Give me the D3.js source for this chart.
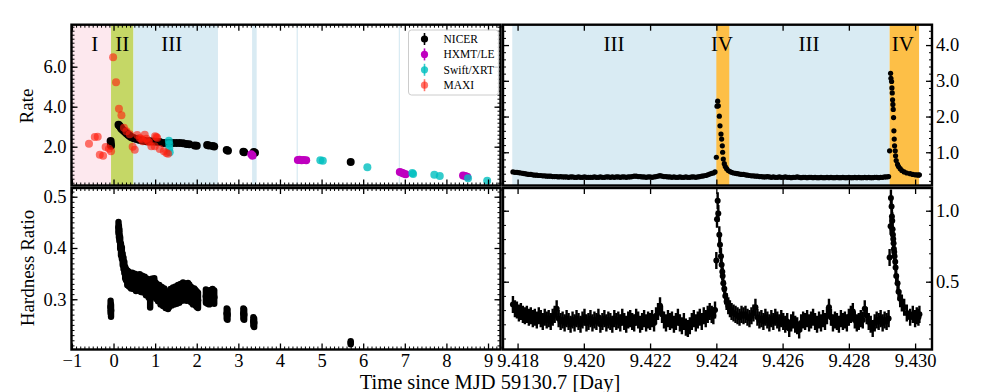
<!DOCTYPE html>
<html>
<head>
<meta charset="utf-8">
<script src="https://cdn.jsdelivr.net/npm/d3@7"></script>
<style>
  body { margin: 0; background: #fff; }
  text { font-family: "Liberation Serif", "Times New Roman", "DejaVu Serif", serif; }
</style>
</head>
<body>
<div id="chart"></div>
<script>
// ---- left panels: days since MJD 59130.7 ----
const nicerT = [-0.07, -0.065, -0.06, 0.12, 0.14, 0.17, 0.19, 0.23, 0.27, 0.31, 0.35, 0.39, 0.43, 0.49, 0.55, 0.61, 0.67, 0.73, 0.79, 0.87, 0.95, 1.03, 1.11, 1.19, 1.27, 1.35, 1.43, 1.51, 1.59, 1.67, 1.75, 1.82, 1.95, 2.0, 2.25, 2.29, 2.38, 2.42, 2.72, 2.75, 3.12, 3.14, 3.37, 3.40, 5.70];
const nicerRate = [2.28, 2.15, 2.05, 3.1, 3.05, 2.97, 2.9, 2.82, 2.75, 2.67, 2.6, 2.53, 2.47, 2.42, 2.38, 2.35, 2.32, 2.3, 2.27, 2.27, 2.26, 2.25, 2.23, 2.19, 2.18, 2.18, 2.18, 2.18, 2.18, 2.17, 2.14, 2.12, 2.06, 2.05, 2.08, 2.06, 2.03, 2.01, 1.83, 1.8, 1.75, 1.72, 1.74, 1.70, 1.23];

const hxmtT = [3.31, 3.34, 4.43, 4.47, 4.52, 4.57, 4.63, 6.88, 6.93, 6.97, 7.02, 8.40, 8.45, 8.50];
const hxmtRate = [1.62, 1.55, 1.34, 1.35, 1.32, 1.33, 1.32, 0.74, 0.70, 0.66, 0.62, 0.56, 0.54, 0.50];

const swiftT = [1.33, 1.34, 1.34, 1.35, 4.97, 5.03, 6.10, 7.18, 7.20, 7.71, 7.84, 8.52, 8.98];
const swiftRate = [2.30, 2.12, 1.92, 1.72, 1.32, 1.30, 0.97, 0.68, 0.63, 0.60, 0.53, 0.42, 0.30];

const maxiT = [-0.59, -0.45, -0.38, -0.33, -0.25, -0.19, -0.11, -0.06, -0.01, 0.06, 0.13, 0.19, 0.25, 0.31, 0.39, 0.46, 0.51, 0.57, 0.63, 0.67, 0.70, 0.75, 0.79, 0.83, 0.86, 0.91, 0.99, 1.00, 1.03, 1.05, 1.11, 1.21, 1.27, 1.31];
const maxiRate = [2.15, 2.48, 2.50, 1.60, 1.55, 1.98, 1.90, 1.77, 6.47, 5.22, 3.90, 3.57, 2.95, 2.77, 2.62, 2.00, 1.85, 2.58, 2.43, 2.38, 2.27, 2.60, 2.40, 2.27, 2.22, 2.02, 2.02, 2.52, 2.48, 2.43, 1.88, 1.77, 1.68, 1.65];

const nicerHrT = [-0.07, -0.06, 0.12, 0.13, 0.14, 0.16, 0.18, 0.20, 0.22, 0.24, 0.26, 0.28, 0.30, 0.33, 0.36, 0.39, 0.42, 0.45, 0.48, 0.51, 0.54, 0.57, 0.60, 0.63, 0.66, 0.69, 0.72, 0.75, 0.78, 0.81, 0.84, 0.86, 0.88, 0.92, 0.95, 0.98, 1.01, 1.04, 1.07, 1.10, 1.13, 1.16, 1.19, 1.22, 1.25, 1.28, 1.31, 1.34, 1.37, 1.40, 1.43, 1.46, 1.49, 1.52, 1.55, 1.58, 1.61, 1.64, 1.67, 1.70, 1.73, 1.76, 1.79, 1.82, 1.85, 1.88, 1.91, 1.94, 1.97, 2.00, 2.03, 2.22, 2.26, 2.30, 2.34, 2.38, 2.42, 2.72, 2.74, 3.12, 3.14, 3.36, 3.38, 5.70];
const nicerHr = [0.285, 0.278, 0.440, 0.432, 0.425, 0.410, 0.397, 0.390, 0.378, 0.370, 0.362, 0.352, 0.348, 0.342, 0.340, 0.338, 0.335, 0.338, 0.334, 0.336, 0.330, 0.334, 0.331, 0.335, 0.328, 0.332, 0.327, 0.330, 0.322, 0.326, 0.318, 0.322, 0.298, 0.325, 0.322, 0.326, 0.318, 0.315, 0.311, 0.313, 0.305, 0.309, 0.302, 0.306, 0.298, 0.300, 0.296, 0.300, 0.305, 0.303, 0.308, 0.305, 0.310, 0.306, 0.313, 0.308, 0.315, 0.312, 0.318, 0.313, 0.316, 0.312, 0.317, 0.314, 0.310, 0.308, 0.305, 0.306, 0.303, 0.300, 0.298, 0.306, 0.304, 0.303, 0.305, 0.307, 0.304, 0.272, 0.270, 0.272, 0.270, 0.257, 0.254, 0.215];
const nicerHrErr = [0.012, 0.012, 0.011, 0.011, 0.011, 0.011, 0.011, 0.011, 0.011, 0.011, 0.011, 0.011, 0.011, 0.014, 0.014, 0.014, 0.014, 0.014, 0.014, 0.014, 0.014, 0.014, 0.014, 0.014, 0.014, 0.014, 0.014, 0.014, 0.014, 0.014, 0.014, 0.014, 0.014, 0.015, 0.015, 0.015, 0.015, 0.015, 0.015, 0.015, 0.015, 0.015, 0.015, 0.015, 0.015, 0.015, 0.015, 0.015, 0.015, 0.015, 0.015, 0.015, 0.015, 0.015, 0.015, 0.015, 0.015, 0.015, 0.015, 0.015, 0.015, 0.015, 0.015, 0.015, 0.015, 0.015, 0.015, 0.015, 0.015, 0.015, 0.015, 0.013, 0.013, 0.013, 0.013, 0.013, 0.013, 0.010, 0.010, 0.010, 0.010, 0.008, 0.008, 0.003];

// phases shaded in the top-left panel
const leftBandStart = [-1.01, -0.06, 0.48, 3.33, 4.40, 6.855];
const leftBandEnd = [-0.06, 0.48, 2.51, 3.44, 4.43, 6.885];
const leftBandPhase = ["I", "II", "III", "III", "III", "III"];
const leftLabelX = [-0.45, 0.21, 1.40];
const leftLabelText = ["I", "II", "III"];

// ---- right panels: zoom on the two flares ----
const quietStartA = 9.41786, quietStartB = 9.42488, quietStep = 0.00006;
const quietRateA = [0.45, 0.44, 0.44, 0.43, 0.42, 0.41, 0.40, 0.39, 0.38, 0.38, 0.37, 0.36, 0.36, 0.35, 0.35, 0.34, 0.34, 0.33, 0.33, 0.33,
  0.32, 0.32, 0.32, 0.31, 0.32, 0.31, 0.31, 0.31, 0.30, 0.31, 0.31, 0.30, 0.30, 0.31, 0.30, 0.30, 0.31, 0.30, 0.30, 0.30,
  0.30, 0.31, 0.30, 0.30, 0.31, 0.30, 0.30, 0.31, 0.31, 0.30, 0.31, 0.30, 0.31, 0.31, 0.30, 0.31, 0.31, 0.30, 0.31, 0.31,
  0.32, 0.33, 0.33, 0.32, 0.32, 0.31, 0.31, 0.30, 0.31, 0.31, 0.30, 0.31, 0.32, 0.33, 0.35, 0.33, 0.32, 0.32, 0.31, 0.31,
  0.30, 0.31, 0.30, 0.30, 0.31, 0.30, 0.30, 0.31, 0.30, 0.30, 0.31, 0.31, 0.30, 0.31, 0.32, 0.33, 0.34, 0.35, 0.37, 0.39, 0.41];
const quietHrA = [0.34, 0.31, 0.30, 0.28, 0.29, 0.27, 0.26, 0.27, 0.25, 0.26,
  0.24, 0.25, 0.23, 0.26, 0.24, 0.22, 0.25, 0.23, 0.24, 0.22,
  0.25, 0.27, 0.31, 0.24, 0.22, 0.23, 0.21, 0.24, 0.22, 0.20,
  0.23, 0.21, 0.24, 0.22, 0.20, 0.23, 0.25, 0.21, 0.22, 0.24,
  0.21, 0.23, 0.22, 0.25, 0.20, 0.22, 0.24, 0.21, 0.23, 0.22,
  0.20, 0.24, 0.22, 0.23, 0.21, 0.25, 0.22, 0.20, 0.23, 0.24,
  0.22, 0.21, 0.25, 0.23, 0.20, 0.22, 0.24, 0.21, 0.23, 0.22,
  0.24, 0.21, 0.26, 0.29, 0.33, 0.27, 0.23, 0.21, 0.24, 0.22,
  0.23, 0.20, 0.22, 0.25, 0.21, 0.19, 0.22, 0.18, 0.17, 0.19,
  0.22, 0.24, 0.21, 0.23, 0.25, 0.22, 0.26, 0.24, 0.27, 0.29, 0.27];
const quietRateB = [0.37, 0.36, 0.35, 0.34, 0.34, 0.33, 0.33, 0.32, 0.32, 0.31, 0.31, 0.32, 0.31, 0.30, 0.31, 0.30, 0.30, 0.31, 0.30, 0.30,
  0.31, 0.30, 0.30, 0.29, 0.30, 0.30, 0.31, 0.30, 0.29, 0.30, 0.30, 0.29, 0.30, 0.30, 0.29, 0.30, 0.29, 0.29, 0.30, 0.29,
  0.29, 0.30, 0.29, 0.30, 0.29, 0.29, 0.30, 0.29, 0.29, 0.30, 0.29, 0.29, 0.30, 0.29, 0.29, 0.30, 0.29, 0.30, 0.29, 0.29,
  0.30, 0.29, 0.30, 0.29, 0.29, 0.30, 0.30, 0.29, 0.30, 0.30, 0.31, 0.31, 0.32];
const quietHrB = [0.27, 0.25, 0.24, 0.26, 0.28, 0.32, 0.25, 0.23, 0.24, 0.22,
  0.25, 0.23, 0.21, 0.24, 0.22, 0.25, 0.23, 0.21, 0.24, 0.22,
  0.20, 0.22, 0.17, 0.21, 0.23, 0.20, 0.19, 0.16, 0.21, 0.23,
  0.22, 0.24, 0.21, 0.23, 0.25, 0.22, 0.20, 0.23, 0.21, 0.24,
  0.22, 0.26, 0.32, 0.25, 0.21, 0.23, 0.22, 0.20, 0.24, 0.22,
  0.23, 0.21, 0.25, 0.27, 0.29, 0.23, 0.21, 0.22, 0.24, 0.23,
  0.31, 0.26, 0.22, 0.20, 0.17, 0.21, 0.23, 0.22, 0.24, 0.21, 0.23, 0.22, 0.24];

const flareAT = [9.42391, 9.42396, 9.42400, 9.42402, 9.42404, 9.42406, 9.42409, 9.42411, 9.42414, 9.42416, 9.42418, 9.42419, 9.42421, 9.42424, 9.42427, 9.42431, 9.42436, 9.42441, 9.42446, 9.42452, 9.42458, 9.42464, 9.42470, 9.42476, 9.42482];
const flareARate = [0.42, 0.45, 0.86, 2.29, 2.43, 2.30, 2.01, 1.74, 1.51, 1.37, 1.18, 1.00, 0.81, 0.68, 0.60, 0.54, 0.49, 0.46, 0.44, 0.42, 0.41, 0.40, 0.39, 0.38, 0.38];
const flareAHr = [0.26, 0.30, 0.65, 0.94, 1.07, 0.98, 0.83, 0.76, 0.68, 0.62, 0.57, 0.54, 0.49, 0.45, 0.40, 0.36, 0.33, 0.31, 0.29, 0.28, 0.27, 0.26, 0.25, 0.27, 0.26];

const flareBT = [9.42923, 9.42926, 9.42927, 9.42929, 9.42930, 9.42931, 9.42932, 9.42933, 9.42934, 9.42935, 9.42936, 9.42937, 9.42938, 9.42940, 9.42941, 9.42943, 9.42947, 9.42950, 9.42955, 9.42960, 9.42967, 9.42975, 9.42985, 9.42993, 9.43000, 9.43005, 9.43010, 9.43013];
const flareBRate = [1.04, 3.21, 3.07, 2.98, 2.80, 2.66, 2.47, 2.34, 2.20, 1.97, 1.60, 1.37, 1.18, 1.04, 0.90, 0.77, 0.66, 0.60, 0.54, 0.49, 0.45, 0.42, 0.40, 0.38, 0.37, 0.37, 0.36, 0.37];
const flareBHr = [0.67, 0.89, 1.09, 1.03, 0.96, 0.93, 0.87, 0.83, 0.80, 0.77, 0.73, 0.71, 0.68, 0.64, 0.60, 0.54, 0.49, 0.43, 0.38, 0.35, 0.32, 0.28, 0.25, 0.27, 0.24, 0.26, 0.25, 0.27];

const rateErrRight = 0.03;
const hrErrRight = 0.06;

const rightBandStart = [9.41784, 9.42400, 9.42923];
const rightBandEnd = [9.42923, 9.42439, 9.43012];
const rightBandPhase = ["III", "IV", "IV"];
const rightLabelX = [9.42091, 9.42417, 9.42680, 9.42963];
const rightLabelText = ["III", "IV", "III", "IV"];

// ticks
const leftXTicks = d3.range(-1, 10, 1);
const rightXTicks = [9.418, 9.420, 9.422, 9.424, 9.426, 9.428, 9.430];
const tlYTicks = [2, 4, 6];
const blYTicks = [0.3, 0.4, 0.5];
const trYTicks = [1, 2, 3, 4];
const brYTicks = [0.5, 1.0];

// ---------------- drawing ----------------
const width = 981, height = 392;
const phaseColor = { I: "#fde8ee", II: "#c5d766", III: "#d9ebf3", IV: "#fdbf47" };

const svg = d3.select("#chart").append("svg")
  .attr("width", width)
  .attr("height", height);

const xLeft = d3.scaleLinear().domain([-1.01, 9.30]).range([71.5, 500.5]);
const xRight = d3.scaleLinear().domain([9.41756, 9.43051]).range([503, 932]);
const topRange = [185.5, 24.7], botRange = [349.5, 188];

const panels = {
  tl: { x: xLeft, y: d3.scaleLinear().domain([0.06, 8.1]).range(topRange) },
  bl: { x: xLeft, y: d3.scaleLinear().domain([0.202, 0.517]).range(botRange) },
  tr: { x: xRight, y: d3.scaleLinear().domain([0.07, 4.57]).range(topRange) },
  br: { x: xRight, y: d3.scaleLinear().domain([0.0225, 1.16]).range(botRange) },
};

const defs = svg.append("defs");
Object.entries(panels).forEach(([k, p]) => {
  const [x0, x1] = p.x.range(), [y1, y0] = p.y.range();
  p.x0 = x0; p.x1 = x1; p.y0 = y0; p.y1 = y1;
  defs.append("clipPath").attr("id", "clip-" + k)
    .append("rect").attr("x", x0).attr("y", y0).attr("width", x1 - x0).attr("height", y1 - y0);
  p.g = svg.append("g").attr("clip-path", `url(#clip-${k})`);
});

function drawBands(p, starts, ends, phases) {
  p.g.append("g").selectAll("rect")
    .data(starts.map((s, i) => ({ s, e: ends[i], ph: phases[i] })))
    .join("rect")
    .attr("x", (d) => p.x(d.s))
    .attr("width", (d) => p.x(d.e) - p.x(d.s))
    .attr("y", p.y0)
    .attr("height", p.y1 - p.y0)
    .attr("fill", (d) => phaseColor[d.ph]);
}

drawBands(panels.tl, leftBandStart, leftBandEnd, leftBandPhase);
drawBands(panels.tr, rightBandStart, rightBandEnd, rightBandPhase);

// error-bar points
function drawPoints(p, ts, vs, err, o) {
  const data = ts.map((t, i) => ({ t, v: vs[i], e: err == null ? 0 : Array.isArray(err) ? err[i] : err }));
  const g = p.g.append("g");
  if (err != null) {
    g.selectAll("line").data(data).join("line")
      .attr("x1", (d) => p.x(d.t)).attr("x2", (d) => p.x(d.t))
      .attr("y1", (d) => p.y(d.v - d.e)).attr("y2", (d) => p.y(d.v + d.e))
      .attr("stroke", o.color)
      .attr("stroke-opacity", o.alpha || 1)
      .attr("stroke-width", o.ew || 1.5)
      .attr("stroke-linecap", o.cap || "butt");
  }
  g.selectAll("circle").data(data).join("circle")
    .attr("cx", (d) => p.x(d.t))
    .attr("cy", (d) => p.y(d.v))
    .attr("r", o.r)
    .attr("fill", o.color)
    .attr("fill-opacity", o.alpha || 1);
}

const nicerColor = "#000", hxmtColor = "#bf00bf", swiftColor = "#00bfbf", maxiColor = "#ff1a0a";

drawPoints(panels.tl, nicerT, nicerRate, null, { color: nicerColor, r: 4 });
drawPoints(panels.tl, hxmtT, hxmtRate, null, { color: hxmtColor, r: 4 });
drawPoints(panels.tl, swiftT, swiftRate, null, { color: swiftColor, r: 4, alpha: 0.8 });
drawPoints(panels.tl, maxiT, maxiRate, null, { color: maxiColor, r: 4, alpha: 0.6 });

drawPoints(panels.bl, nicerHrT, nicerHr, nicerHrErr, { color: nicerColor, r: 3.3, ew: 6.4, cap: "round" });

const quietTA = quietRateA.map((_, i) => quietStartA + i * quietStep);
const quietTB = quietRateB.map((_, i) => quietStartB + i * quietStep);

[[quietTA, quietRateA], [flareAT, flareARate], [quietTB, quietRateB], [flareBT, flareBRate]]
  .forEach(([t, v]) => drawPoints(panels.tr, t, v, rateErrRight, { color: nicerColor, r: 2.6, ew: 1.5 }));
[[quietTA, quietHrA], [flareAT, flareAHr], [quietTB, quietHrB], [flareBT, flareBHr]]
  .forEach(([t, v]) => drawPoints(panels.br, t, v, hrErrRight, { color: nicerColor, r: 3, ew: 2.4 }));

// phase labels
function phaseLabels(p, xs, labels) {
  svg.append("g").selectAll("text")
    .data(xs.map((x, i) => ({ x, s: labels[i] })))
    .join("text")
    .attr("x", (d) => p.x(d.x))
    .attr("y", 51)
    .attr("text-anchor", "middle")
    .attr("font-size", 21)
    .text((d) => d.s);
}
phaseLabels(panels.tl, leftLabelX, leftLabelText);
phaseLabels(panels.tr, rightLabelX, rightLabelText);

// axes: ticks pointing inwards on every side
function frame(p, o) {
  const g = svg.append("g");
  const put = (axis, tx, ty, ticks, size, fmt, sw, pad) => {
    const a = g.append("g")
      .attr("transform", `translate(${tx},${ty})`)
      .call(axis.tickValues(ticks).tickSize(-size).tickPadding(pad || 5).tickFormat(fmt || (() => "")));
    a.select(".domain").remove();
    a.selectAll("line").attr("stroke-width", sw);
    a.attr("font-family", null).attr("font-size", 18.5);
  };
  const xMinor = o.xMinor || [], yMinor = o.yMinor || [];
  put(d3.axisBottom(p.x), 0, p.y1, o.xMajor, 6, o.xFmt, 1.3, 4);
  put(d3.axisTop(p.x), 0, p.y0, o.xMajor, 6, null, 1.3);
  put(d3.axisBottom(p.x), 0, p.y1, xMinor, 3, null, 1);
  put(d3.axisTop(p.x), 0, p.y0, xMinor, 3, null, 1);
  put(d3.axisLeft(p.y), p.x0, 0, o.yMajor, 6, o.yLeftFmt, 1.3, 5);
  put(d3.axisRight(p.y), p.x1, 0, o.yMajor, 6, o.yRightFmt, 1.3, 4);
  put(d3.axisLeft(p.y), p.x0, 0, yMinor, 3, null, 1);
  put(d3.axisRight(p.y), p.x1, 0, yMinor, 3, null, 1);
  g.append("rect")
    .attr("x", p.x0).attr("y", p.y0)
    .attr("width", p.x1 - p.x0).attr("height", p.y1 - p.y0)
    .attr("fill", "none").attr("stroke", "#000").attr("stroke-width", 2.4);
}

const f1 = d3.format(".1f");
const leftXMinor = d3.range(-10, 94).map((i) => i / 10).filter((v) => Math.abs(v - Math.round(v)) > 1e-6);

frame(panels.tl, { xMajor: leftXTicks, xMinor: leftXMinor, yMajor: tlYTicks, yMinor: d3.range(1, 41).map((i) => i * 0.2), yLeftFmt: f1 });
frame(panels.bl, { xMajor: leftXTicks, xMinor: leftXMinor, xFmt: d3.format("d"), yMajor: blYTicks, yMinor: d3.range(21, 52).map((i) => i / 100), yLeftFmt: f1 });
frame(panels.tr, { xMajor: rightXTicks, yMajor: trYTicks, yMinor: d3.range(1, 23).map((i) => i * 0.2), yRightFmt: f1 });
frame(panels.br, { xMajor: rightXTicks, xFmt: d3.format(".3f"), yMajor: brYTicks, yMinor: d3.range(1, 12).map((i) => i / 10), yRightFmt: f1 });

// legend
const legendNames = ["NICER", "HXMT/LE", "Swift/XRT", "MAXI"];
const legendColors = [nicerColor, hxmtColor, swiftColor, maxiColor];
const legendAlpha = [1, 1, 0.8, 0.6];
const legend = svg.append("g").attr("transform", "translate(408.5,30)");
legend.append("rect")
  .attr("width", 90).attr("height", 65).attr("rx", 3)
  .attr("fill", "#fff").attr("fill-opacity", 0.8)
  .attr("stroke", "#cccccc").attr("stroke-width", 1);
const items = legend.selectAll("g.item").data(legendNames).join("g")
  .attr("class", "item")
  .attr("transform", (d, i) => `translate(16,${9 + i * 15.4})`);
items.append("line")
  .attr("y1", -6).attr("y2", 6)
  .attr("stroke", (d, i) => legendColors[i])
  .attr("stroke-opacity", (d, i) => legendAlpha[i])
  .attr("stroke-width", 1.6);
items.append("circle")
  .attr("r", 3.6)
  .attr("fill", (d, i) => legendColors[i])
  .attr("fill-opacity", (d, i) => legendAlpha[i]);
items.append("text")
  .attr("x", 19).attr("dy", "0.35em")
  .attr("font-size", 11.5)
  .text((d) => d);

// axis titles
svg.append("text")
  .attr("transform", "translate(33,106) rotate(-90)")
  .attr("text-anchor", "middle").attr("font-size", 19)
  .text("Rate");
svg.append("text")
  .attr("transform", "translate(34,268) rotate(-90)")
  .attr("text-anchor", "middle").attr("font-size", 19)
  .text("Hardness Ratio");
svg.append("text")
  .attr("x", 490).attr("y", 389)
  .attr("text-anchor", "middle").attr("font-size", 20.5)
  .text("Time since MJD 59130.7 [Day]");
</script>
</body>
</html>
